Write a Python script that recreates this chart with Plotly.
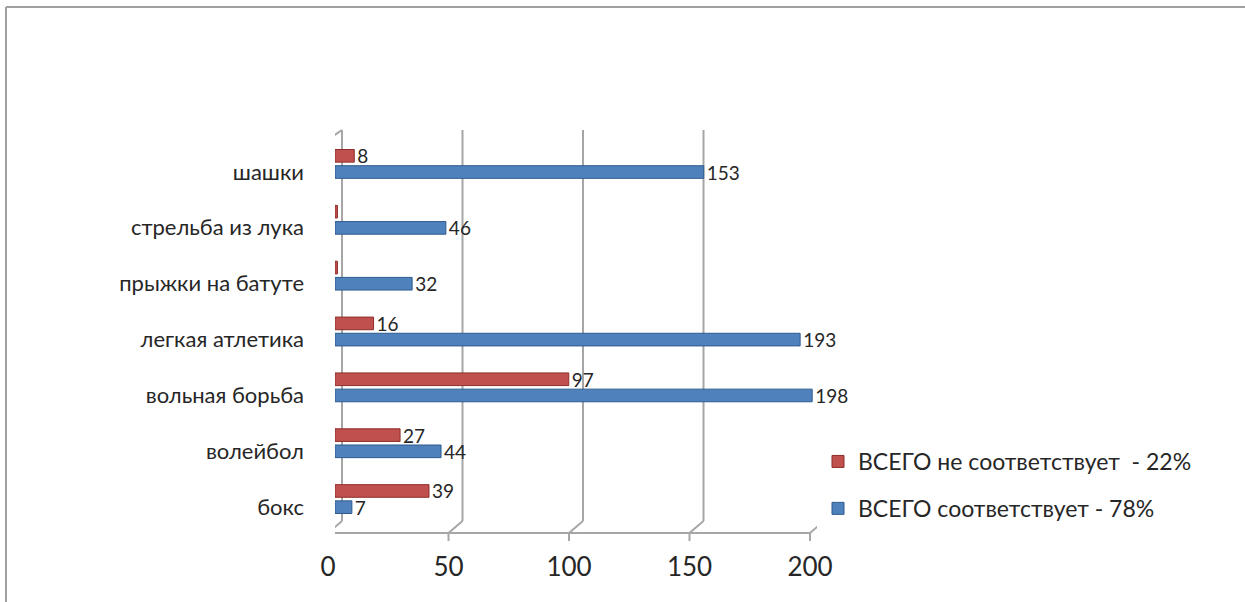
import plotly.graph_objects as go

# Sports sections, listed from the bottom of the chart to the top
categories = ["бокс", "волейбол", "вольная борьба", "легкая атлетика",
              "прыжки на батуте", "стрельба из лука", "шашки"]
match_values = [7, 44, 198, 193, 32, 46, 153]      # ВСЕГО соответствует
mismatch_values = [39, 27, 97, 16, 1, 1, 8]        # ВСЕГО не соответствует
match_name = "ВСЕГО соответствует - 78%"
mismatch_name = "ВСЕГО не соответствует\u00a0 - 22%"
x_ticks = [0, 50, 100, 150, 200]

FONT = "Lato, 'Open Sans', sans-serif"
TEXT = "#262626"
GRID = "#A6A6A6"

# plot area in pixels (used to place the pseudo-3D walls and frame)
W, H = 1245, 602
L, R, T, B = 335, 817, 136, 527
DEPTH_X = 7 / ((R - L) / 200)      # half depth of the 3D box, in x units
DEPTH_Y = 6 / (B - T)              # half depth of the 3D box, in paper units


def labels_for(values, hide_below=2):
    return [str(v) if v >= hide_below else "" for v in values]


fig = go.Figure()
fig.add_trace(go.Bar(
    y=categories, x=match_values, orientation="h", name=match_name,
    marker=dict(color="#4F81BD", line=dict(color="#2E5B8E", width=1)),
    text=labels_for(match_values), textposition="outside", constraintext="none",
    textfont=dict(family=FONT, size=19, color=TEXT),
    legendgroup="match", legendrank=2, cliponaxis=False,
))
fig.add_trace(go.Bar(
    y=categories, x=mismatch_values, orientation="h", name=mismatch_name,
    marker=dict(color="#C0504D", line=dict(color="#8E2E2C", width=1)),
    text=labels_for(mismatch_values), textposition="outside", constraintext="none",
    textfont=dict(family=FONT, size=19, color=TEXT),
    legendgroup="mismatch", legendrank=1, cliponaxis=False,
))

shapes = []
line = dict(color=GRID, width=2)
# back wall gridlines and the floor connectors
for v in x_ticks:
    shapes.append(dict(type="line", xref="x", yref="paper",
                       x0=v + DEPTH_X, x1=v + DEPTH_X,
                       y0=DEPTH_Y * 1.0, y1=1 + DEPTH_Y * 1.0, line=line, layer="below"))
    shapes.append(dict(type="line", xref="x", yref="paper",
                       x0=v - DEPTH_X, x1=v + DEPTH_X,
                       y0=-DEPTH_Y * 1.0, y1=DEPTH_Y * 1.0, line=line, layer="below"))
    shapes.append(dict(type="line", xref="x", yref="paper",
                       x0=v - DEPTH_X, x1=v - DEPTH_X,
                       y0=-DEPTH_Y, y1=-DEPTH_Y - 8 / (B - T), line=line))
# front edge of the floor
shapes.append(dict(type="line", xref="x", yref="paper",
                   x0=-DEPTH_X - 2, x1=200 - DEPTH_X,
                   y0=-DEPTH_Y, y1=-DEPTH_Y, line=line, layer="below"))
# front edge of the side wall with category ticks
shapes.append(dict(type="line", xref="x", yref="paper",
                   x0=-DEPTH_X, x1=-DEPTH_X, y0=-DEPTH_Y, y1=1 - DEPTH_Y * 0.6,
                   line=line, layer="below"))
shapes.append(dict(type="line", xref="x", yref="paper",
                   x0=-DEPTH_X, x1=DEPTH_X, y0=1 - DEPTH_Y * 0.6, y1=1 + DEPTH_Y * 1.0,
                   line=line, layer="below"))
n = len(categories)
for k in range(n + 1):
    yk = -DEPTH_Y + k * (1 - DEPTH_Y * 0.6 + DEPTH_Y) / n
    shapes.append(dict(type="line", xref="x", yref="paper",
                       x0=-DEPTH_X - 2.2, x1=-DEPTH_X, y0=yk, y1=yk,
                       line=line, layer="below"))

# outer chart frame (left and top borders)
px_x = lambda p: (p - L) / (R - L)
px_y = lambda p: (B - p) / (B - T)
frame = dict(color="#A0A0A0", width=2)
shapes.append(dict(type="line", xref="paper", yref="paper",
                   x0=px_x(6), x1=px_x(6), y0=px_y(7), y1=px_y(W), line=frame))
shapes.append(dict(type="line", xref="paper", yref="paper",
                   x0=px_x(6), x1=px_x(W + 20), y0=px_y(7), y1=px_y(7), line=frame))

fig.update_layout(
    width=W, height=H,
    margin=dict(l=L, r=W - R, t=T, b=H - B, autoexpand=False),
    paper_bgcolor="white", plot_bgcolor="white",
    barmode="group", bargap=0.42, bargroupgap=0.22,
    font=dict(family=FONT, color=TEXT),
    shapes=shapes,
    xaxis=dict(range=[0, 200], tickvals=x_ticks, showgrid=False, zeroline=False,
               showline=False, ticks="", tickfont=dict(size=26, color=TEXT),
               ticklabelshift=-7, ticklabelstandoff=22, fixedrange=True),
    yaxis=dict(showgrid=False, zeroline=False, showline=False, ticks="",
               tickfont=dict(size=22, color=TEXT), ticklabelshift=8,
               ticklabelstandoff=30, fixedrange=True),
    legend=dict(x=px_x(818), y=px_y(440), xanchor="left", yanchor="top",
                traceorder="grouped", tracegroupgap=14,
                font=dict(size=23, color=TEXT), bgcolor="rgba(0,0,0,0)"),
)

fig.write_html("out.html")
